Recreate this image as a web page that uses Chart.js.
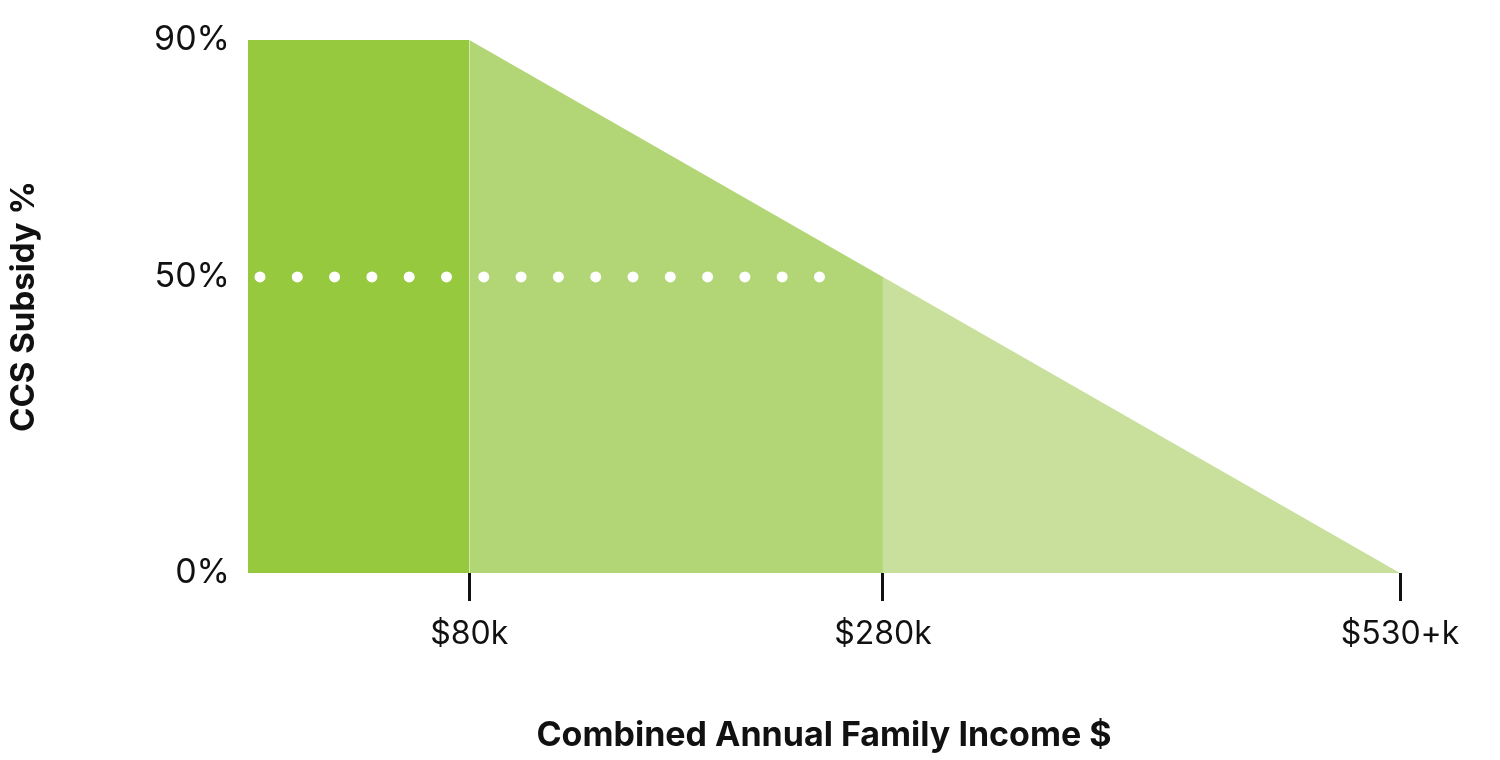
<![CDATA[<!DOCTYPE html><html><head><meta charset="utf-8">
<script src="https://cdn.jsdelivr.net/npm/chart.js@4"></script>
<style>html,body{margin:0;background:#fff}#w{width:1500px;height:760px}</style></head><body><div id="w"><canvas id="c"></canvas></div>
<script>
// income break points ($k); axisStart is where the schematic axis begins
const axisStart = -27;
const incomeBreaks = [80, 280, 530];
const subsidyAtBreaks = [90, 50, 0];
const tickLabels = ['$80k', '$280k', '$530+k'];
const yTicks = [0, 50, 90];
const dottedEnd = 267;

const colors = ['#96c93d', '#b2d575', '#c9e09c'];
const regions = [
  [{x: axisStart, y: 90}, {x: 80, y: 90}],
  [{x: 80, y: 90}, {x: 280, y: 50}],
  [{x: 280, y: 50}, {x: 530, y: 0}]
];
const ds = regions.map((pts, i) => ({data: pts, backgroundColor: colors[i], borderWidth: 0, fill: 'origin', pointRadius: 0, order: 2}));
ds.push({data: [{x: axisStart + 5.8, y: 50}, {x: dottedEnd, y: 50}], borderColor: '#fff', borderWidth: 11, borderCapStyle: 'round', borderDash: [0, 37.3], fill: false, pointRadius: 0, order: 1});

new Chart(document.getElementById('c'), {
  type: 'line',
  data: {datasets: ds},
  options: {
    animation: false, responsive: true, maintainAspectRatio: false,
    layout: {padding: {top: 40, right: 100, left: 0, bottom: 0}},
    plugins: {legend: {display: false}, tooltip: {enabled: false}},
    scales: {
      x: {type: 'linear', min: axisStart, max: 530,
        afterBuildTicks: s => { s.ticks = incomeBreaks.map(v => ({value: v})); },
        afterFit: s => { s.height = 187; },
        border: {display: false},
        grid: {drawOnChartArea: false, drawTicks: true, tickLength: 28, color: '#111', tickWidth: 3, lineWidth: 3},
        ticks: {padding: 14, color: '#111', font: {family: 'Inter', size: 32}, maxRotation: 0,
          callback: (v) => tickLabels[incomeBreaks.indexOf(v)]},
        title: {display: true, text: 'Combined Annual Family Income $', color: '#111', font: {family: 'Inter', size: 34, weight: 'bold'}, padding: {top: 40}}
      },
      y: {min: 0, max: 90,
        afterBuildTicks: s => { s.ticks = yTicks.map(v => ({value: v})); },
        afterFit: s => { s.width = 248; },
        border: {display: false},
        grid: {display: false},
        ticks: {padding: 10, color: '#111', font: {family: 'Inter', size: 34}, callback: v => v + '%'},
        title: {display: true, text: 'CCS Subsidy %', color: '#111', font: {family: 'Inter', size: 33, weight: 'bold'}, padding: {bottom: 60}}
      }
    }
  }
});
</script></body></html>]]>
